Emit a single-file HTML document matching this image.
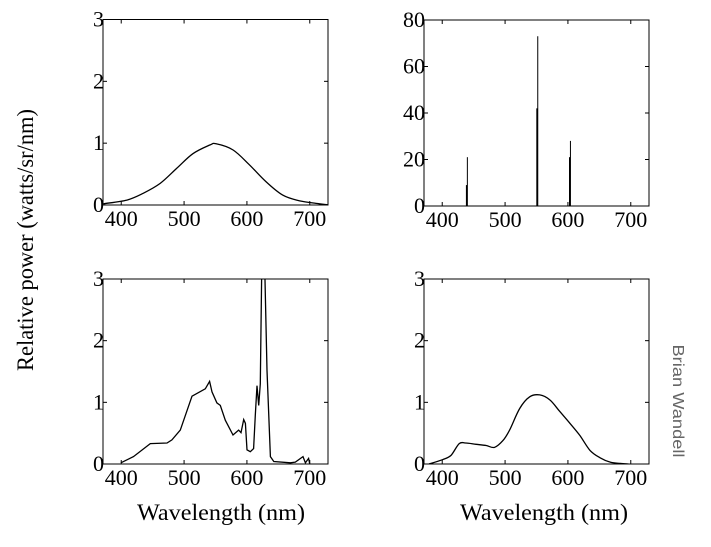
<!DOCTYPE html>
<html><head><meta charset="utf-8"><style>
html,body{margin:0;padding:0;background:#fff;}
svg{display:block;}
.sf{font-family:"Liberation Serif","DejaVu Serif","Times New Roman","Noto Serif CJK SC",serif;fill:#000;}
</style></head>
<body>
<svg id="fig" width="711" height="547" viewBox="0 0 711 547">
<text class="sf" x="33" y="240" font-size="23" text-anchor="middle" transform="rotate(-90 33 240)" textLength="262" lengthAdjust="spacingAndGlyphs">Relative power (watts/sr/nm)</text>
<text class="sf" x="221" y="520" font-size="23" text-anchor="middle" textLength="168" lengthAdjust="spacingAndGlyphs">Wavelength (nm)</text>
<text class="sf" x="544" y="520" font-size="23" text-anchor="middle" textLength="168" lengthAdjust="spacingAndGlyphs">Wavelength (nm)</text>
<text x="673" y="401" font-size="16" text-anchor="middle" transform="rotate(90 673 401)" textLength="113" lengthAdjust="spacingAndGlyphs" font-family="Liberation Sans, sans-serif" fill="#666">Brian Wandell</text>
</svg>
<script>
// Panel A: smooth broadband
const aWl = [372,409,435,462,488,514,541,551,578,604,630,657,683,715,728];
const aVal = [0.02,0.08,0.19,0.35,0.59,0.83,0.97,0.99,0.89,0.65,0.38,0.16,0.07,0.02,0.005];
// Panel B: line spectrum
const bWl = [440,552,604];
const bMax = [21,73,28];
const bMid = [9,42,21];
// Panel C: spiky fluorescent-like
const cWl = [399.5,419.6,446.2,472.8,480.7,494,512.6,533.8,540.6,544.4,552.3,557.6,565.6,577.8,586.8,590.6,594.8,597.5,600.1,605.4,610.7,613.4,616.1,618.7,621.3,624,627.7,632,637.3,642.7,669.1,677,689.3,693,698.2,699.8];
const cVal = [0.02,0.12,0.33,0.34,0.39,0.55,1.10,1.22,1.34,1.17,0.99,0.95,0.71,0.47,0.55,0.51,0.72,0.66,0.23,0.20,0.25,0.79,1.27,0.95,1.30,3.5,3.5,1.52,0.12,0.04,0.02,0.03,0.12,0.02,0.09,0.01];
// Panel D: two-hump
const dWl = [379,400.5,413.9,427,437.9,453.9,469.9,483.2,496.5,507.2,523.2,539.2,555.2,571.2,587.2,603.2,619.2,635.2,651.2,667.2,683.2,696.5];
const dVal = [0,0.07,0.14,0.33,0.34,0.32,0.30,0.27,0.38,0.55,0.90,1.09,1.12,1.04,0.85,0.66,0.46,0.22,0.10,0.03,0.01,0];
const xTicks = [400,500,600,700];
const yTicksA = [0,1,2,3];
const yTicksB = [0,20,40,60,80];

const NS = "http://www.w3.org/2000/svg";
const svg = document.getElementById('fig');
function mk(tag, attrs, parent){const e=document.createElementNS(NS,tag);for(const k in attrs)e.setAttribute(k,attrs[k]);(parent||svg).appendChild(e);return e;}

function panel(name, left, top, bottom, ymax, yTicks){
  const W=225;
  const g=mk('g',{});
  
  
  const xs=w=>left+(w-371)*W/358;
  const ys=v=>bottom-v*(bottom-top)/ymax;
  const clip=mk('clipPath',{id:'c'+name},g);
  mk('rect',{x:left,y:top,width:W,height:bottom-top},clip);
  mk('rect',{x:left,y:top,width:W,height:bottom-top,fill:'none',stroke:'#000','stroke-width':1},g);
  xTicks.forEach(t=>{
    const x=xs(t);
    mk('line',{x1:x,x2:x,y1:bottom,y2:bottom-4,stroke:'#000'},g);
    mk('line',{x1:x,x2:x,y1:top,y2:top+4,stroke:'#000'},g);
    const tx=mk('text',{x:x,y:bottom+21,'font-size':22,'text-anchor':'middle','class':'sf'},g);
    tx.textContent=t;
    
    
  });
  yTicks.forEach(t=>{
    const y=ys(t);
    mk('line',{x1:left,x2:left+4,y1:y,y2:y,stroke:'#000'},g);
    mk('line',{x1:left+W,x2:left+W-4,y1:y,y2:y,stroke:'#000'},g);
    const tx=mk('text',{x:left+1,y:y+7,'font-size':22,'text-anchor':'end','class':'sf'},g);
    tx.textContent=t;
    
    
  });
  return {g,xs,ys,clipId:'c'+name};
}
function curve(p, wl, val, name, smooth){
  const P=wl.map((w,i)=>[p.xs(w),p.ys(val[i])]);
  let d='M'+P[0][0].toFixed(1)+','+P[0][1].toFixed(1);
  for(let i=0;i<P.length-1;i++){
    if(!smooth){d+=' L'+P[i+1][0].toFixed(1)+','+P[i+1][1].toFixed(1);continue;}
    const p0=P[Math.max(0,i-1)],p1=P[i],p2=P[i+1],p3=P[Math.min(P.length-1,i+2)];
    const c1=[p1[0]+(p2[0]-p0[0])/6,p1[1]+(p2[1]-p0[1])/6];
    const c2=[p2[0]-(p3[0]-p1[0])/6,p2[1]-(p3[1]-p1[1])/6];
    d+=' C'+c1.map(v=>v.toFixed(1)).join(',')+' '+c2.map(v=>v.toFixed(1)).join(',')+' '+p2.map(v=>v.toFixed(1)).join(',');
  }
  const pl=mk('path',{d:d,fill:'none',stroke:'#000','stroke-width':1.3,'clip-path':'url(#'+p.clipId+')'},p.g);
  
  
}
const pA=panel('panel-top-left',103,19.5,205,3,yTicksA);
curve(pA,aWl,aVal,'spectrum-curve-a',true);
const pB=panel('panel-top-right',424,20,206,80,yTicksB);
bWl.forEach((w,i)=>{
  const x=pB.xs(w);
  const l1=mk('line',{x1:x,x2:x,y1:pB.ys(0),y2:pB.ys(bMax[i]),stroke:'#000','stroke-width':1},pB.g);
  
  
  const l2=mk('line',{x1:x-0.7,x2:x-0.7,y1:pB.ys(0),y2:pB.ys(bMid[i]),stroke:'#000','stroke-width':1.5},pB.g);
  
  
});
const pC=panel('panel-bottom-left',103,279,464,3,yTicksA);
curve(pC,cWl,cVal,'spectrum-curve-c',false);
const pD=panel('panel-bottom-right',424,279,464,3,yTicksA);
curve(pD,dWl,dVal,'spectrum-curve-d',true);
</script>
</body></html>
